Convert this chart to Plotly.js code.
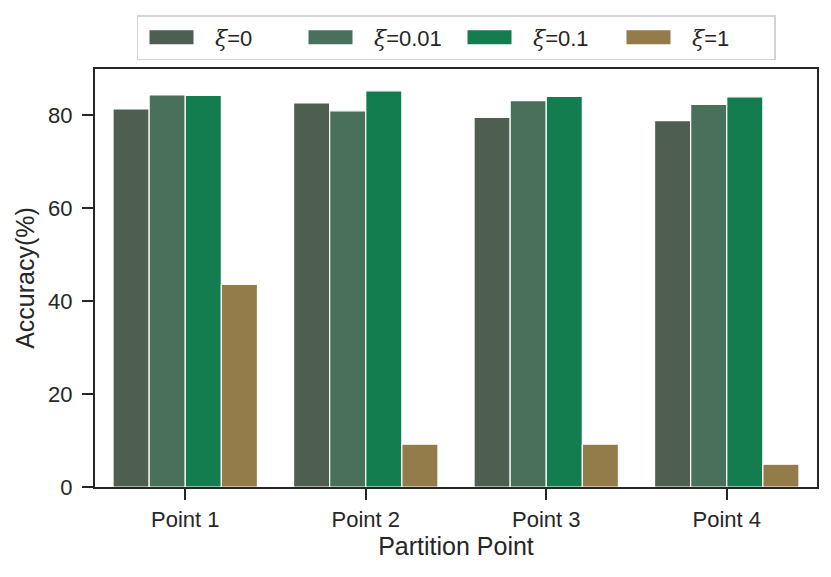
<!DOCTYPE html>
<html>
<head>
<meta charset="utf-8">
<script src="https://cdn.plot.ly/plotly-3.0.1.min.js"></script>
<style>
  body { margin: 0; background: #fff; }
  #chart { width: 831px; height: 577px; }
</style>
</head>
<body>
<div id="chart"></div>
<script>
const points = ["Point 1", "Point 2", "Point 3", "Point 4"];
const seriesNames = ["0", "0.01", "0.1", "1"];
const xi0 = [81.4, 82.7, 79.6, 78.9];
const xi001 = [84.4, 81.0, 83.2, 82.4];
const xi01 = [84.3, 85.3, 84.1, 84.0];
const xi1 = [43.6, 9.2, 9.2, 4.9];
const colors = ["#4e5e50", "#48705a", "#147d50", "#937b4a"];

const textColor = "#262626";
const allSeries = [xi0, xi001, xi01, xi1];

const traces = allSeries.map((vals, i) => ({
    x: points,
    y: vals,
    type: "bar",
    name: '<span style="font-family:DejaVu Serif;font-style:italic">ξ</span>=' + seriesNames[i],
    marker: {color: colors[i], line: {color: "#ffffff", width: 1.2}},
    hoverinfo: "y"
}));

const axisBase = {
    showline: true,
    linecolor: textColor,
    linewidth: 2.2,
    mirror: true,
    ticks: "outside",
    ticklen: 11,
    tickwidth: 2,
    tickcolor: textColor,
    showgrid: false,
    zeroline: false,
    tickfont: {size: 22, color: textColor}
};

const layout = {
    width: 831,
    height: 577,
    margin: {l: 95, r: 14, t: 69, b: 90, autoexpand: false},
    paper_bgcolor: "#fff",
    plot_bgcolor: "#fff",
    font: {family: "Liberation Sans, Arial, sans-serif", color: textColor},
    barmode: "group",
    bargap: 0.2,
    bargroupgap: 0,
    xaxis: Object.assign({}, axisBase, {
        ticklabelstandoff: 0,
        title: {text: "Partition Point", font: {size: 25, color: textColor}, standoff: 0}
    }),
    yaxis: Object.assign({}, axisBase, {
        ticklabelstandoff: 5,
        range: [0, 90],
        tickvals: [0, 20, 40, 60, 80],
        title: {text: "Accuracy(%)", font: {size: 25, color: textColor}, standoff: 6}
    }),
    legend: {
        orientation: "h",
        x: 0.5,
        xanchor: "center",
        yref: "container",
        y: 1 - 15 / 577,
        yanchor: "top",
        bgcolor: "#fff",
        bordercolor: "#d4d4d4",
        borderwidth: 1.5,
        font: {size: 22, color: textColor},
        entrywidth: 77,
        itemwidth: 67,
        tracegroupgap: 0
    },
    showlegend: true
};

Plotly.newPlot("chart", traces, layout, {displayModeBar: false, staticPlot: true}).then((gd) => {
    // wider legend patches, like the matplotlib ones
    gd.querySelectorAll(".legend .legendpoints path").forEach((p) => {
        p.setAttribute("d", "M-27,7H17V-7H-27Z");
        p.style.strokeWidth = "0";
    });
});
</script>
</body>
</html>
